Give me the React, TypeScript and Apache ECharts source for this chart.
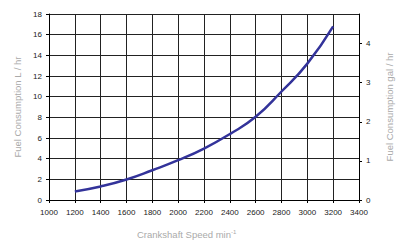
import React, { useEffect, useRef } from "react";
import * as echarts from "echarts";

const speeds = [1200, 1400, 1600, 1800, 2000, 2200, 2400, 2600, 2800, 3000, 3200];
const litresPerHour = [0.83, 1.31, 1.98, 2.88, 3.85, 4.98, 6.38, 8.05, 10.5, 13.2, 16.8];
const litresPerGallon = 3.785;
const leftMax = 18;

export default function App() {
  const ref = useRef<HTMLDivElement>(null);
  useEffect(() => {
    if (!ref.current) return;
    const chart = echarts.init(ref.current, undefined, { renderer: "svg" });
    const font = "Liberation Sans, Arial, sans-serif";
    const labelStyle = { color: "#222", fontSize: 8, fontFamily: font };
    const nameStyle = { color: "#aaa", fontSize: 9.5, fontFamily: font };
    chart.setOption({
      animation: false,
      backgroundColor: "#fff",
      grid: { left: 49, right: 39, top: 14, bottom: 43, containLabel: false },
      graphic: [
        {
          type: "text",
          left: 137,
          top: 229,
          style: {
            text: "Crankshaft Speed min{sup|-1}",
            fill: "#aaa",
            fontSize: 9.5,
            fontFamily: font,
            rich: {
              sup: { fill: "#aaa", fontSize: 6, fontFamily: font, padding: [0, 0, 5, 0] },
            },
          },
        },
      ],
      xAxis: {
        type: "value",
        min: 1000,
        max: 3400,
        interval: 200,
        axisLine: { show: true, onZero: false, lineStyle: { color: "#000", width: 1 } },
        axisTick: { show: true, length: 3, lineStyle: { color: "#000" } },
        axisLabel: { ...labelStyle, margin: 8, formatter: (v: number) => String(v) },
        splitLine: { show: true, lineStyle: { color: "#222", width: 1 } },
      },
      yAxis: [
        {
          type: "value",
          min: 0,
          max: leftMax,
          interval: 2,
          position: "left",
          name: "Fuel Consumption L / hr",
          nameLocation: "middle",
          nameGap: 21,
          nameTextStyle: nameStyle,
          axisLine: { show: true, lineStyle: { color: "#000", width: 1 } },
          axisTick: { show: true, length: 3, lineStyle: { color: "#000" } },
          axisLabel: { ...labelStyle, margin: 7, formatter: (v: number) => String(v) },
          splitLine: { show: true, lineStyle: { color: "#222", width: 1 } },
        },
        {
          type: "value",
          min: 0,
          max: leftMax / litresPerGallon,
          interval: 1,
          position: "right",
          name: "Fuel Consumption gal / hr",
          nameLocation: "middle",
          nameGap: 25,
          nameTextStyle: nameStyle,
          axisLine: { show: true, lineStyle: { color: "#000", width: 1 } },
          axisTick: { show: true, length: 3, lineStyle: { color: "#000" } },
          axisLabel: { ...labelStyle, margin: 7, showMaxLabel: false, formatter: (v: number) => String(v) },
          splitLine: { show: false },
        },
      ],
      series: [
        {
          type: "line",
          yAxisIndex: 0,
          data: speeds.map((s, i) => [s, litresPerHour[i]]),
          smooth: 0.5,
          showSymbol: false,
          lineStyle: { color: "#33339a", width: 2.5 },
        },
      ],
    });
    return () => chart.dispose();
  }, []);
  return <div ref={ref} style={{ position: "fixed", left: 0, top: 0, width: 402, height: 243 }} />;
}
